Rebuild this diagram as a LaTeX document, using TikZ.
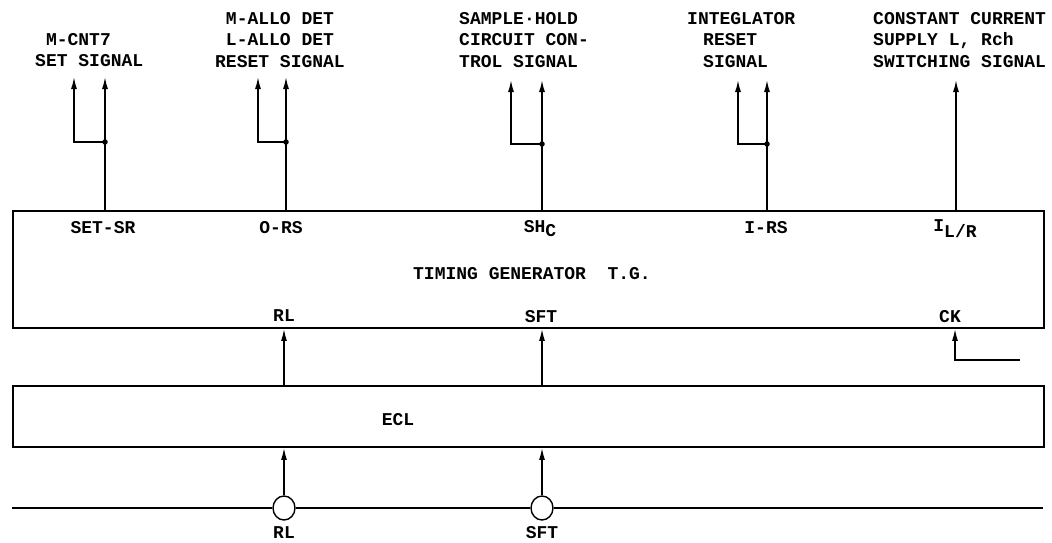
\documentclass[tikz,border=0pt]{standalone}
\usepackage{fontspec}
\setmainfont{Liberation Mono}
\usetikzlibrary{arrows.meta,shapes.geometric}

\tikzset{
	block/.style={draw, line width=1.8pt, inner sep=0pt},
	wire/.style={line width=1.5pt},
	signal/.style={wire, -{Latex[length=12pt,width=6pt]}},
	txt/.style={font=\fontsize{18}{21.5}\selectfont\bfseries, inner sep=0pt},
	junction/.style={circle, fill, inner sep=0pt, minimum size=5.5pt},
	terminal/.style={ellipse, draw, fill=white, line width=1.4pt, inner sep=0pt, minimum width=22pt, minimum height=24pt}
}

\begin{document}
\begin{tikzpicture}[x=1pt, y=-1pt]
		\useasboundingbox (0,0) rectangle (1052,543);

		\node[block, minimum width=1031pt, minimum height=117pt] (tg) at (528.5,269.5) {};
		\node[block, minimum width=1031pt, minimum height=61pt] (ecl) at (528.5,416.5) {};

		\node[txt] (setsr) at (103,228) {SET-SR};
		\node[txt] (ors) at (281,228) {O-RS};
		\node[txt] (shc) at (540,229) {SH\raisebox{-4pt}{C}};
		\node[txt] (irs) at (766,228) {I-RS};
		\node[txt] (ilr) at (955,229) {I\raisebox{-6pt}{L/R}};
		\node[txt] (tgname) at (532,274) {TIMING GENERATOR\ \ T.G.};
		\node[txt] (rlpin) at (284,316) {RL};
		\node[txt] (sftpin) at (541,317) {SFT};
		\node[txt] (ckpin) at (950,317) {CK};
		\node[txt] (eclname) at (398,420) {ECL};

		\node[txt, align=left, anchor=north west] (cntlbl) at (35,33) {\ M-CNT7\\SET SIGNAL};
		\node[txt, align=center, anchor=north] (allolbl) at (280,12) {M-ALLO DET\\L-ALLO DET\\RESET SIGNAL};
		\node[txt, align=left, anchor=north west] (shlbl) at (459,12) {SAMPLE·HOLD\\CIRCUIT CON-\\TROL SIGNAL};
		\node[txt, align=left, anchor=north west] (intlbl) at (687,12) {INTEGLATOR\\\hspace*{16pt}RESET\\\hspace*{16pt}SIGNAL};
		\node[txt, align=left, anchor=north west] (cclbl) at (873,12) {CONSTANT CURRENT\\SUPPLY L, Rch\\SWITCHING SIGNAL};

		\coordinate (setsrout) at (105,77);
		\coordinate (setsrbr) at (74,77);
		\node[junction] (setsrj) at (105,142) {};
		\draw[signal] (tg.north -| setsrout) -- (setsrout);
		\draw[signal] (setsrj.center) -| (setsrbr);

		\coordinate (orsout) at (286,77);
		\coordinate (orsbr) at (258,77);
		\node[junction] (orsj) at (286,142) {};
		\draw[signal] (tg.north -| orsout) -- (orsout);
		\draw[signal] (orsj.center) -| (orsbr);

		\coordinate (shcout) at (542,80);
		\coordinate (shcbr) at (511,80);
		\node[junction] (shcj) at (542,144) {};
		\draw[signal] (tg.north -| shcout) -- (shcout);
		\draw[signal] (shcj.center) -| (shcbr);

		\coordinate (irsout) at (767,80);
		\coordinate (irsbr) at (738,80);
		\node[junction] (irsj) at (767,144) {};
		\draw[signal] (tg.north -| irsout) -- (irsout);
		\draw[signal] (irsj.center) -| (irsbr);

		\coordinate (ilrout) at (956,80);
		\draw[signal] (tg.north -| ilrout) -- (ilrout);

		\coordinate (cksrc) at (1020,360);
		\coordinate (ckbend) at (955,360);
		\draw[signal] (cksrc) -- (ckbend) -- (tg.south -| ckbend);

		\coordinate (busl) at (12,508);
		\coordinate (busr) at (1043,508);
		\node[terminal] (rlt) at (284,508) {};
		\node[terminal] (sftt) at (542,508) {};
		\node[txt] (rllbl) at (284,533) {RL};
		\node[txt] (sftlbl) at (542,533) {SFT};
		\draw[wire] (busl) -- (rlt) -- (sftt) -- (busr);
		\draw[signal] (rlt) -- (rlt |- ecl.south);
		\draw[signal] (sftt) -- (sftt |- ecl.south);
		\draw[signal] (ecl.north -| rlt) -- (tg.south -| rlt);
		\draw[signal] (ecl.north -| sftt) -- (tg.south -| sftt);
	\end{tikzpicture}
\end{document}
